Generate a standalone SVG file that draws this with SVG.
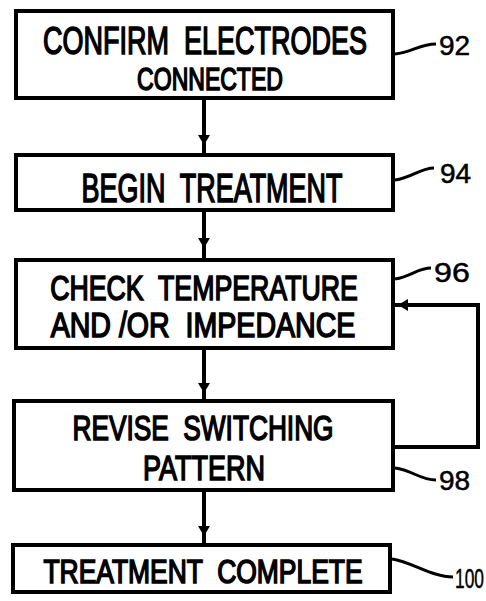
<svg xmlns="http://www.w3.org/2000/svg" width="486" height="601" viewBox="0 0 486 601">
<style>
.box{fill:#fff;stroke:#000;stroke-width:4}
.t{font-family:"Liberation Sans",Arial,sans-serif;font-weight:normal;text-anchor:middle;fill:#000;stroke:#000;stroke-width:1.6;white-space:pre}
.n{font-family:"Liberation Sans",Arial,sans-serif;font-weight:normal;fill:#000;font-size:28px;stroke:#000;stroke-width:0.5}
.ln{fill:none;stroke:#000;stroke-width:4}
.ld{fill:none;stroke:#000;stroke-width:3}
</style>
<defs>
<marker id="ah" viewBox="0 0 10 12" refX="10" refY="6" markerWidth="10" markerHeight="12" markerUnits="userSpaceOnUse" orient="auto">
<path d="M0,0 L10,6 L0,12 Z" fill="#000"/>
</marker>
</defs>
<rect width="486" height="601" fill="#fff"/>
<g id="connectors">
<line class="ln" x1="204" y1="98" x2="204" y2="155"/>
<line class="ln" x1="204" y1="98" x2="204" y2="145" marker-end="url(#ah)"/>
<line class="ln" x1="204" y1="210" x2="204" y2="260"/>
<line class="ln" x1="204" y1="210" x2="204" y2="248" marker-end="url(#ah)"/>
<line class="ln" x1="204" y1="348" x2="204" y2="401"/>
<line class="ln" x1="204" y1="348" x2="204" y2="393" marker-end="url(#ah)"/>
<line class="ln" x1="204" y1="490" x2="204" y2="545"/>
<line class="ln" x1="204" y1="490" x2="204" y2="536" marker-end="url(#ah)"/>
<polyline class="ln" points="393,447 478,447 478,305 393,305"/>
<line class="ln" x1="420" y1="305" x2="398" y2="305" marker-end="url(#ah)"/>
</g>
<g id="n92">
<rect class="box" x="16" y="11" width="377" height="87"/>
<text class="t" xml:space="preserve" transform="translate(205 53.5) scale(0.692 1)" font-size="39" textLength="468" lengthAdjust="spacingAndGlyphs">CONFIRM  ELECTRODES</text>
<text class="t" transform="translate(210 90) scale(0.744 1)" font-size="31" textLength="196" lengthAdjust="spacingAndGlyphs">CONNECTED</text>
<path class="ld" d="M395,54 C412,52 420,44 436,44"/>
<text class="n" x="439" y="55">92</text>
</g>
<g id="n94">
<rect class="box" x="16" y="155" width="377" height="55"/>
<text class="t" xml:space="preserve" transform="translate(212 202) scale(0.667 1)" font-size="40" textLength="391" lengthAdjust="spacingAndGlyphs">BEGIN  TREATMENT</text>
<path class="ld" d="M395,180 C412,178 420,168 434,168"/>
<text class="n" x="440" y="183">94</text>
</g>
<g id="n96">
<rect class="box" x="16" y="260" width="377" height="88"/>
<text class="t" xml:space="preserve" transform="translate(204 300) scale(0.758 1)" font-size="35" textLength="406" lengthAdjust="spacingAndGlyphs">CHECK  TEMPERATURE</text>
<text class="t" xml:space="preserve" transform="translate(203 337) scale(0.817 1)" font-size="35" textLength="373" lengthAdjust="spacingAndGlyphs">AND /OR  IMPEDANCE</text>
<path class="ld" d="M395,279 C412,276 418,268 431,268"/>
<text class="n" transform="translate(434 282) scale(1.15 1)">96</text>
</g>
<g id="n98">
<rect class="box" x="14" y="401" width="379" height="89"/>
<text class="t" xml:space="preserve" transform="translate(203 440) scale(0.729 1)" font-size="36" textLength="358" lengthAdjust="spacingAndGlyphs">REVISE  SWITCHING</text>
<text class="t" transform="translate(204 480) scale(0.726 1)" font-size="36" textLength="168" lengthAdjust="spacingAndGlyphs">PATTERN</text>
<path class="ld" d="M395,468 C412,470 420,480 436,480"/>
<text class="n" x="439" y="490">98</text>
</g>
<g id="n100">
<rect class="box" x="13" y="545" width="377" height="47"/>
<text class="t" xml:space="preserve" transform="translate(203 583) scale(0.794 1)" font-size="33" textLength="402" lengthAdjust="spacingAndGlyphs">TREATMENT  COMPLETE</text>
<path class="ld" d="M392,559 C412,562 432,577 453,577"/>
<text class="n" transform="translate(455 588) scale(0.62 1)">100</text>
</g>
</svg>
